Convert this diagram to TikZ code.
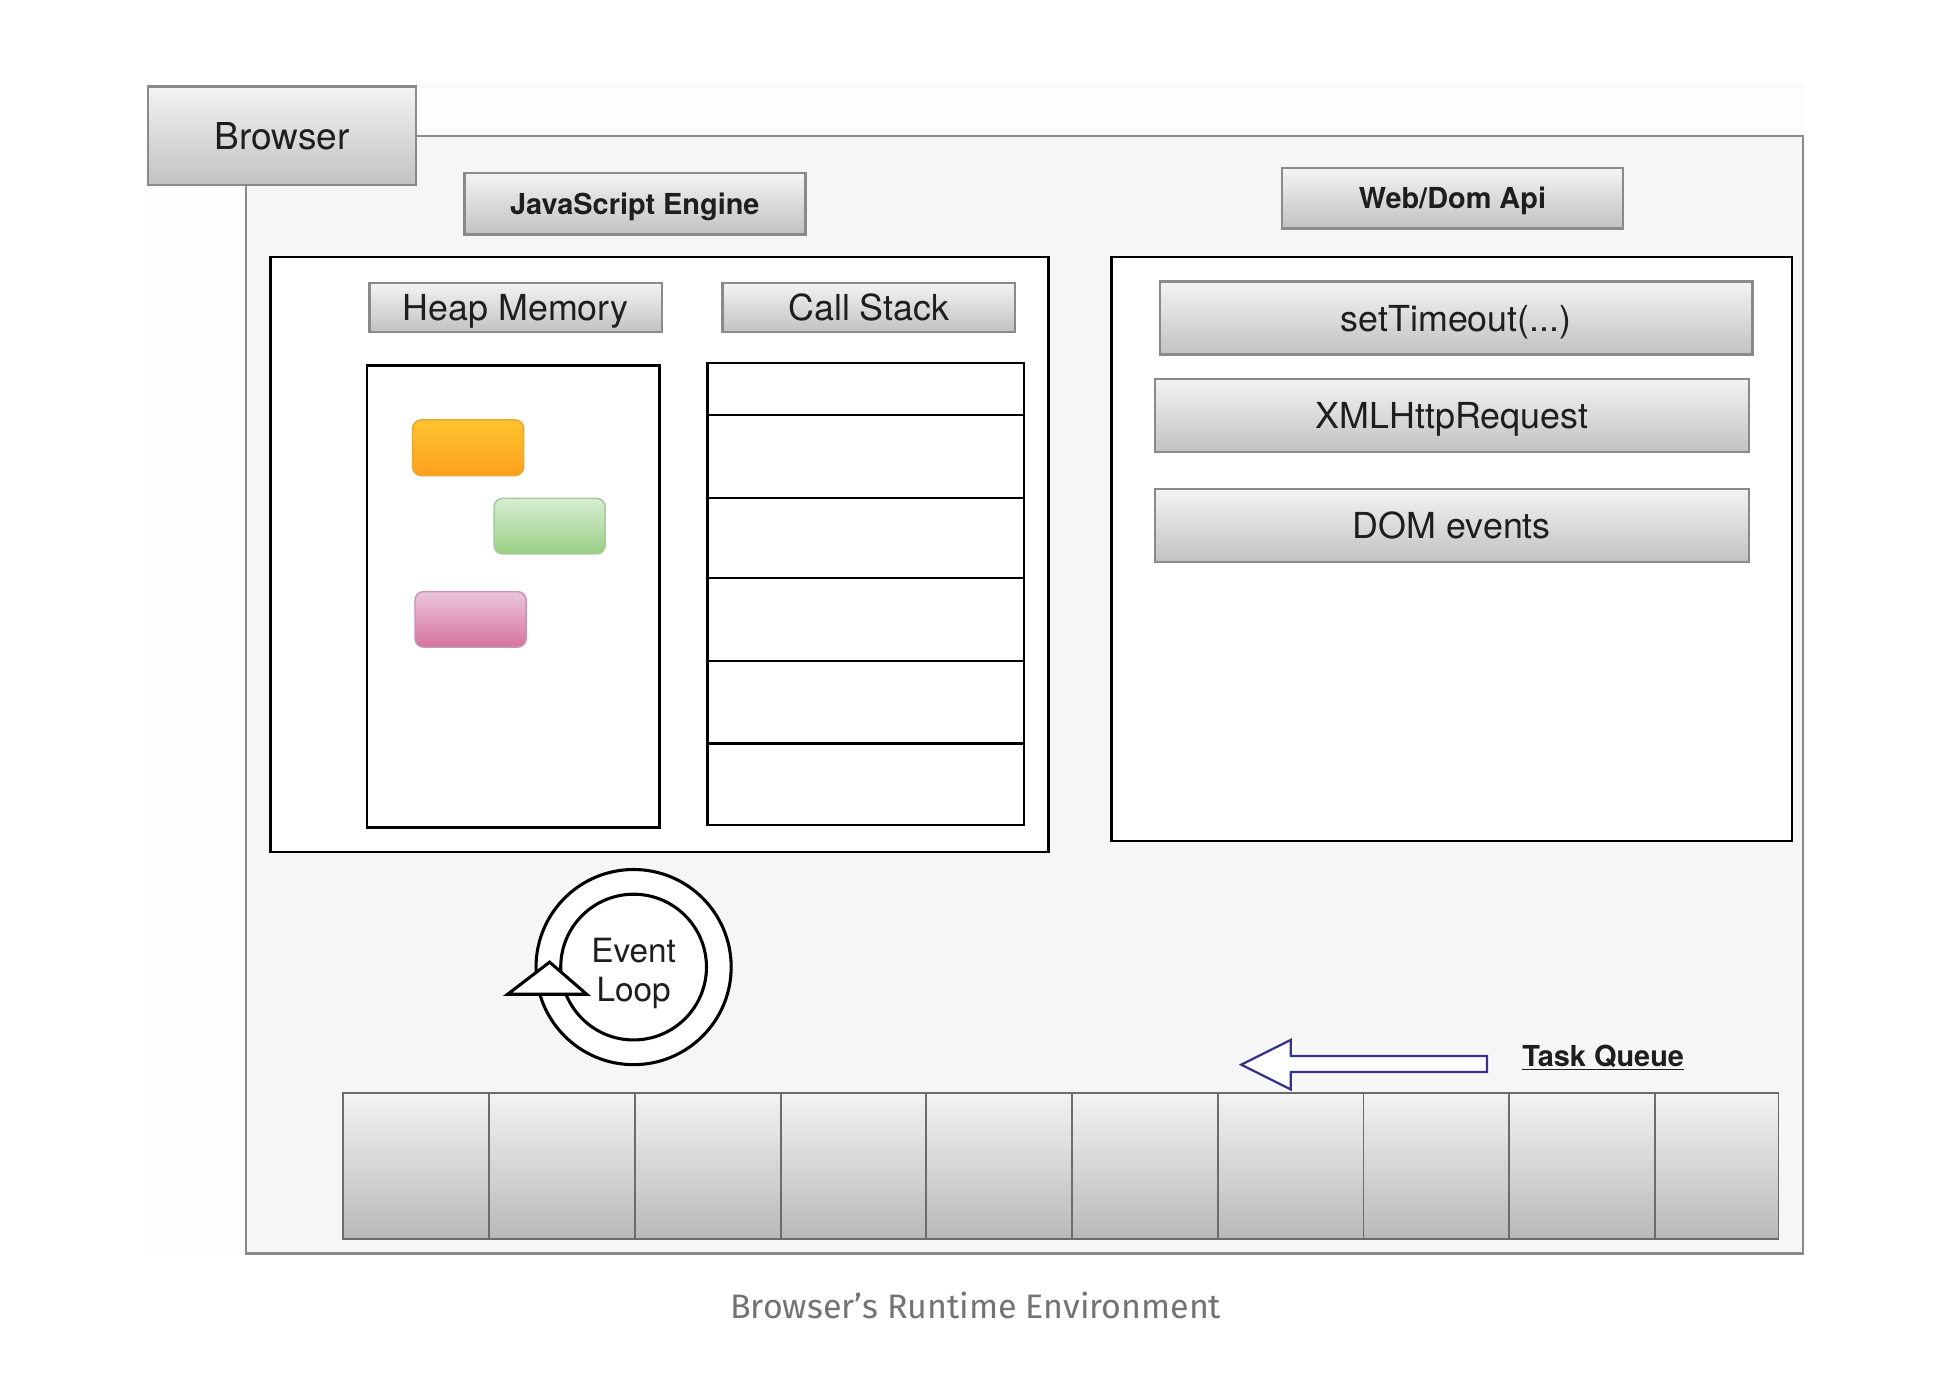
\documentclass[tikz,border=0pt]{standalone}
\usepackage{fontspec}
\setmainfont{TeX Gyre Heros}
\newfontfamily\capfont{Fira Sans}
\usetikzlibrary{shapes.geometric}
\definecolor{bord}{HTML}{8A8A8A}
\definecolor{gtop}{HTML}{F3F3F3}
\definecolor{gbot}{HTML}{C2C2C2}
\definecolor{txt}{HTML}{1E1E1E}
\definecolor{navy}{HTML}{33338A}
\definecolor{capc}{HTML}{737373}
\definecolor{ortop}{HTML}{FFC42E}
\definecolor{orbot}{HTML}{FFA01E}
\definecolor{orbrd}{HTML}{E8A830}
\definecolor{grtop}{HTML}{D8EDD2}
\definecolor{grbot}{HTML}{98CF84}
\definecolor{grbrd}{HTML}{A3CC98}
\definecolor{pktop}{HTML}{EBC6DC}
\definecolor{pkbot}{HTML}{D6729F}
\definecolor{pkbrd}{HTML}{CC94B4}
\tikzset{
  lblbox/.style={draw=bord, line width=2pt, top color=gtop, bottom color=gbot, inner sep=0pt, text=txt, align=center, text depth=0pt},
  regfont/.style={font=\fontsize{29}{34}\selectfont},
  boldfont/.style={font=\fontsize{23.4}{28}\selectfont\bfseries},
  blackbox/.style={draw=black, line width=2pt, fill=white, inner sep=0pt},
  blob/.style={rounded corners=7pt, line width=1.2pt, inner sep=0pt, minimum width=90pt, minimum height=45pt},
  qcell/.style={draw=gray!85!black, line width=1.5pt, top color=gtop, bottom color=gray!55, inner sep=0pt, minimum height=118pt},
}
\begin{document}
\begin{tikzpicture}[x=1pt,y=-1pt]
\useasboundingbox (0,0) rectangle (1567.5,1128.4);
\fill[white] (0,0) rectangle (1567.5,1128.4);
% faint background panel
\fill[gray!1.5] (120,70) rectangle (1460,1015);
\draw[gray!10, line width=1pt] (120,70) -- (1460,70);
% outer container
\node[draw=bord, line width=2pt, fill=gray!7, inner sep=0pt, minimum width=1261pt, minimum height=905pt] (outer) at (829.5,562.5) {};
% Browser tab
\node[lblbox, font=\fontsize{30}{36}\selectfont, minimum width=217pt, minimum height=80pt] (browser) at (228.5,110) {Browser};
% section labels
\node[lblbox, boldfont, minimum width=276pt, minimum height=50pt] (jslbl) at (514,165) {JavaScript Engine};
\node[lblbox, boldfont, minimum width=276pt, minimum height=49pt] (weblbl) at (1176,160.5) {Web/Dom Api};
% JS engine container
\node[blackbox, minimum width=630pt, minimum height=482pt] (js) at (534,449) {};
\node[lblbox, regfont, minimum width=237pt, minimum height=40pt] (heaplbl) at (417.5,249) {Heap Memory};
\node[lblbox, regfont, minimum width=237pt, minimum height=40pt] (calllbl) at (703.5,249) {Call Stack};
% heap
\node[blackbox, minimum width=237pt, minimum height=374pt] (heap) at (415.5,483) {};
\node[blob, draw=orbrd, top color=ortop, bottom color=orbot] (orng) at (379,362.5) {};
\node[blob, draw=grbrd, top color=grtop, bottom color=grbot] (grn) at (445,426) {};
\node[blob, draw=pkbrd, top color=pktop, bottom color=pkbot] (pnk) at (381,501.5) {};
% call stack cells
\foreach \i/\a/\b in {1/294/336,2/336/403,3/403/468,4/468/535,5/535/602,6/602/668}{
  \node[blackbox, minimum width=256pt, minimum height={\b-\a}] (s\i) at (701,{(\a+\b)/2}) {};
}
% Web API container
\node[blackbox, minimum width=551pt, minimum height=473pt] (web) at (1175.5,444.5) {};
\node[lblbox, regfont, minimum width=480pt, minimum height=59pt] (st) at (1179,257.5) {setTimeout(...)};
\node[lblbox, regfont, minimum width=481pt, minimum height=59pt] (xhr) at (1175.5,336.5) {XMLHttpRequest};
\node[lblbox, regfont, minimum width=481pt, minimum height=59pt] (dom) at (1175.5,425.5) {DOM events};
% event loop
\node[circle, draw=black, line width=2.5pt, fill=white, minimum size=158pt, inner sep=0pt] (elo) at (513,783) {};
\node[circle, draw=black, line width=2.5pt, fill=white, minimum size=118pt, inner sep=0pt] (eli) at (513,783) {};
\node[font=\fontsize{27}{32}\selectfont, text=txt, align=center, inner sep=0pt] (eltxt) at (513,788) {Event\\Loop};
\draw[line width=2.5pt, fill=white, line join=miter] (411,805) -- (445,779) -- (475,805) -- cycle;
% task queue
\foreach \i in {1,...,9}{
  \node[qcell, minimum width=118pt] (q\i) at ({278+118*(\i-1)+59},944) {};
}
\node[qcell, minimum width=100pt] (q10) at (1390,944) {};
% arrow
\draw[navy, line width=1.8pt, fill=white, line join=miter] (1005,862) -- (1045,842) -- (1045,855) -- (1204,855) -- (1204,868) -- (1045,868) -- (1045,882) -- cycle;
\node[boldfont, text=txt, inner sep=0pt] (tq) at (1298,856) {\underline{Task Queue}};
% caption
\node[font=\capfont\fontsize{27.5}{32}\selectfont, text=capc, inner sep=0pt] (cap) at (790,1057) {Browser’s Runtime Environment};
\end{tikzpicture}
\end{document}
